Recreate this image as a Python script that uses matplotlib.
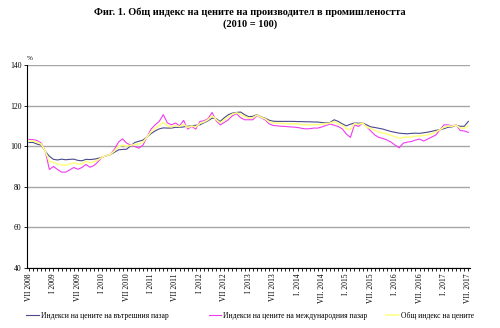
import numpy as np
import matplotlib
matplotlib.use('Agg')
import matplotlib.pyplot as plt

plt.rcParams['font.family'] = ['Liberation Serif', 'DejaVu Serif']

# Месечни индекси VII 2008 - VII 2017 (2010 = 100)
domestic = [
    101.8, 101.8, 101.0, 100.5, 97.5, 95.0, 93.5, 93.2, 93.6, 93.3,
    93.5, 93.6, 93.0, 92.8, 93.5, 93.4, 93.6, 94.0, 94.6, 95.2,
    95.8, 97.0, 98.2, 98.4, 98.5, 100.2, 101.8, 102.4, 103.0, 104.5,
    106.2, 107.5, 108.5, 109.0, 108.9, 108.9, 109.3, 109.2, 109.5, 109.8,
    110.0, 110.3, 110.5, 111.5, 112.5, 113.8, 113.5, 112.2, 114.0, 115.5,
    116.3, 116.6, 116.8, 115.5, 114.5, 114.7, 115.5, 114.5, 113.8, 112.8,
    112.3, 112.2, 112.2, 112.2, 112.2, 112.2, 112.1, 112.1, 112.0, 112.0,
    111.9, 111.9, 111.6, 111.4, 111.6, 113.0, 112.2, 111.0, 110.0, 110.8,
    111.4, 111.3, 111.4, 110.5, 109.5, 109.2, 108.8, 108.4, 107.8, 107.2,
    106.8, 106.4, 106.2, 106.1, 106.3, 106.4, 106.3, 106.6, 106.9, 107.3,
    107.8, 108.1, 108.6, 109.3, 109.5, 110.3, 109.8, 109.8, 112.2,
]
international = [
    103.3, 103.2, 102.8, 101.5, 97.5, 88.5, 90.0, 88.5, 87.2, 87.2,
    88.3, 89.5, 88.6, 89.5, 91.0, 89.6, 90.5, 92.4, 94.6, 95.4,
    96.0, 98.5, 102.0, 103.6, 101.5, 100.5, 99.8, 99.0, 100.5, 104.5,
    108.4, 110.5, 112.2, 115.5, 111.5, 110.5, 111.4, 110.0, 112.7, 108.4,
    109.7, 108.4, 112.2, 112.5, 113.5, 116.6, 112.5, 110.5, 111.7, 113.0,
    115.0, 116.0, 114.0, 113.0, 113.0, 113.0, 115.0, 114.0, 113.0, 111.0,
    110.2, 110.0, 109.8, 109.7, 109.5, 109.4, 109.2, 108.8, 108.5, 108.6,
    108.9, 108.9, 109.5, 110.2, 110.9, 110.3, 109.7, 108.5, 106.0, 104.3,
    110.5, 109.7, 111.4, 109.5, 107.5, 105.5, 104.3, 103.8, 103.0, 102.0,
    100.5, 99.2, 101.5, 102.0, 102.3, 103.0, 103.5, 102.5, 103.5, 104.5,
    105.5, 108.0, 110.5, 110.5, 110.0, 110.5, 107.7, 107.5, 106.8,
]
total = [
    102.5, 102.5, 102.0, 101.0, 97.5, 92.5, 92.0, 91.2, 90.8, 90.6,
    91.2, 91.8, 91.2, 91.3, 92.5, 91.8, 92.3, 93.3, 94.6, 95.3,
    95.9, 97.7, 99.8, 100.5, 100.0, 100.4, 100.9, 101.0, 101.9, 104.5,
    107.1, 108.8, 110.0, 111.7, 110.0, 109.5, 110.2, 109.6, 110.8, 109.2,
    109.9, 109.5, 111.2, 111.9, 113.0, 115.0, 113.1, 111.5, 113.0, 114.4,
    115.8, 116.4, 115.7, 114.5, 113.8, 114.0, 115.3, 114.3, 113.5, 112.0,
    111.5, 111.3, 111.2, 111.1, 111.0, 111.0, 110.9, 110.7, 110.5, 110.5,
    110.6, 110.6, 110.8, 111.0, 111.4, 112.0, 111.1, 110.2, 108.5, 108.2,
    111.1, 110.7, 111.4, 109.3, 108.7, 107.7, 106.9, 106.5, 106.0, 105.4,
    104.6, 103.9, 104.3, 104.5, 104.6, 105.0, 105.0, 105.3, 105.5, 106.2,
    106.9, 108.1, 109.3, 109.9, 109.8, 110.4, 108.9, 108.8, 110.0,
]

tick_labels = ['VII 2008', 'I 2009', 'VII 2009', 'I 2010', 'VII 2010',
               'I 2011', 'VII 2011', 'I 2012', 'VII 2012', 'I 2013',
               'VII 2013', 'I. 2014', 'VII. 2014', 'I. 2015', 'VII. 2015',
               'I. 2016', 'VII. 2016', 'I. 2017', 'VII. 2017']

x = np.arange(len(domestic))

fig = plt.figure(figsize=(5.0, 3.28), dpi=100)
ax = fig.add_axes([0.054, 0.183, 0.886, 0.619])

l1, = ax.plot(x, domestic, color='#4a4a8c', lw=0.8)
l2, = ax.plot(x, international, color='#f03cf0', lw=0.8)
l3, = ax.plot(x, total, color='#ffff80', lw=1.1)

ax.set_ylim(40, 140)
ax.set_xlim(-0.5, len(x) - 0.6)
ax.set_yticks(range(40, 141, 20))
ax.yaxis.grid(True, color='#a6a6a6', lw=1.0)
ax.set_axisbelow(True)
for side in ['top', 'right']:
    ax.spines[side].set_visible(False)
ax.spines['left'].set_linewidth(0.8)
ax.spines['bottom'].set_linewidth(0.8)

ax.set_xticks(x, minor=True)
ax.set_xticks(x[::6])
ax.set_xticklabels(tick_labels, rotation=90, fontsize=5.5)
ax.tick_params(axis='x', which='both', length=2.5, width=0.6, pad=1.5)
ax.tick_params(axis='y', length=2, width=0.6, labelsize=5.5, pad=2)
ax.text(0, 1.025, '%', transform=ax.transAxes, fontsize=5, ha='left')

fig.text(0.5, 0.963, 'Фиг. 1. Общ индекс на цените на производител в промишлеността',
         ha='center', va='center', fontsize=7.5, fontweight='bold')
fig.text(0.5, 0.925, '(2010 = 100)', ha='center', va='center',
         fontsize=7.5, fontweight='bold')

leg_kw = dict(frameon=False, fontsize=5.5, handlelength=1.6,
              handletextpad=0.3, borderpad=0, loc='center left')
fig.legend([l1], ['Индекси на цените на вътрешния пазар'],
           bbox_to_anchor=(0.045, 0.037), **leg_kw)
fig.legend([l2], ['Индекси на цените на международния пазар'],
           bbox_to_anchor=(0.41, 0.037), **leg_kw)
fig.legend([l3], ['Общ индекс на цените'],
           bbox_to_anchor=(0.765, 0.037), **leg_kw)

fig.savefig('out.png', dpi=100)
